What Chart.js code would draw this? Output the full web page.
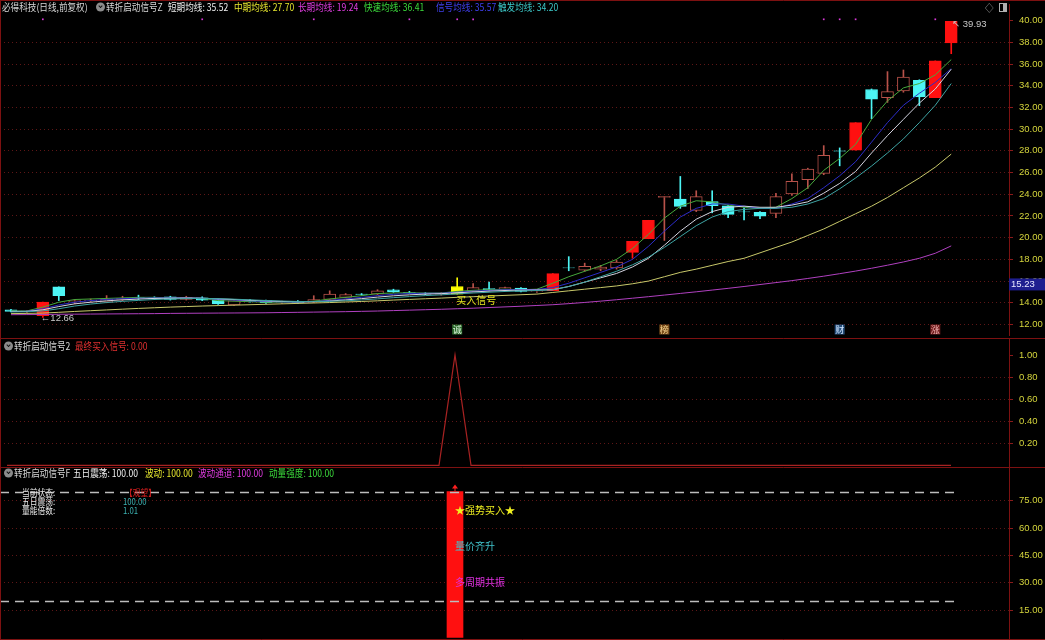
<!DOCTYPE html>
<html>
<head>
<meta charset="utf-8">
<title>必得科技 转折启动信号</title>
<script src="https://cdn.jsdelivr.net/npm/chart.js@4.4.1/dist/chart.umd.min.js"></script>
<style>
body { margin: 0; background: #000; }
#wrap { position: relative; width: 1045px; height: 640px; overflow: hidden; background: #000; font-family: "Noto Sans CJK SC", sans-serif; font-size: 10px; }
canvas { position: absolute; left: 0; }
.t { position: absolute; white-space: nowrap; line-height: 12px; transform-origin: left center; transform: translateY(-50%) scaleX(0.86); color: #d6d6d6; }
.info { font-size: 9px; line-height: 9px; }
.icon { position: absolute; width: 9px; height: 9px; border-radius: 50%; background: #8c8c8c; transform: translateY(-50%); }
.icon::after { content: ''; position: absolute; left: 3px; top: 1.5px; width: 2px; height: 2px; border-right: 1px solid #111; border-bottom: 1px solid #111; transform: rotate(45deg); }
</style>
</head>
<body>
<div id="wrap">
  <canvas id="price" width="1045" height="339" style="top:0"></canvas>
  <canvas id="final-buy" width="1045" height="129" style="top:339px"></canvas>
  <canvas id="strength" width="1045" height="172" style="top:468px"></canvas>

  <span class="t" style="left:2px;top:7px">必得科技(日线,前复权)</span>
  <span class="icon" style="left:96px;top:7px"></span>
  <span class="t" style="left:106px;top:7px">转折启动信号Z</span>
  <span class="t" style="left:168px;top:7px;color:#f0f0f0">短期均线: 35.52</span>
  <span class="t" style="left:234px;top:7px;color:#e6e62e">中期均线: 27.70</span>
  <span class="t" style="left:298px;top:7px;color:#e03ce0">长期均线: 19.24</span>
  <span class="t" style="left:364px;top:7px;color:#3cdc3c">快速均线: 36.41</span>
  <span class="t" style="left:436px;top:7px;color:#4040f0">信号均线: 35.57</span>
  <span class="t" style="left:498px;top:7px;color:#3cc8c8">触发均线: 34.20</span>
  <span class="t" style="left:985px;top:8px;color:#a0a0a0">◇</span>
  <div style="position:absolute;left:999px;top:3px;width:8px;height:9px;border:1px solid #b0b0b0;box-sizing:border-box"><div style="position:absolute;right:0;top:0;width:3px;height:7px;background:#b0b0b0"></div></div>

  <span class="icon" style="left:4px;top:346px"></span>
  <span class="t" style="left:14px;top:346px">转折启动信号2</span>
  <span class="t" style="left:75px;top:346px;color:#e03030">最终买入信号: 0.00</span>

  <span class="icon" style="left:4px;top:473px"></span>
  <span class="t" style="left:14px;top:473px">转折启动信号F</span>
  <span class="t" style="left:73px;top:473px;color:#f0f0f0">五日震荡: 100.00</span>
  <span class="t" style="left:145px;top:473px;color:#e6e62e">波动: 100.00</span>
  <span class="t" style="left:198px;top:473px;color:#e03ce0">波动通道: 100.00</span>
  <span class="t" style="left:269px;top:473px;color:#3cdc3c">动量强度: 100.00</span>

  <span class="t info" style="left:22px;top:492px;color:#e8e8e8">当前状态:</span>
  <span class="t info" style="left:125px;top:492px;color:#e02020">【观望】</span>
  <span class="t info" style="left:22px;top:501px;color:#e8e8e8">五日震荡:</span>
  <span class="t info" style="left:123px;top:501px;color:#3cb4b4">100.00</span>
  <span class="t info" style="left:22px;top:510px;color:#e8e8e8">量能倍数:</span>
  <span class="t info" style="left:123px;top:510px;color:#3cb4b4">1.01</span>
</div>

<script>
// daily candles (index = trading day)
const open_prices = [13.35, 13.20, 12.80, 15.47, 14.10, 14.20, 14.06, 14.30, 14.50, 14.45,
    14.55, 14.30, 14.45, 14.30, 13.80, 14.20, 14.20, 14.05, 14.10, 14.05,
    14.30, 14.50, 14.80, 14.80, 15.20, 14.95, 14.85, 14.80, 14.80, 15.10,
    15.30, 15.20, 15.35, 15.05, 15.11, 17.22, 17.00, 17.10, 17.20, 18.64,
    19.90, 23.70, 23.55, 22.52, 23.33, 22.94, 22.38, 22.34, 22.23, 24.02,
    25.34, 25.93, 27.99, 28.06, 33.65, 32.91, 33.51, 34.50, 32.91, 37.94];
const high_prices = [13.40, 13.30, 14.06, 15.47, 14.30, 14.35, 14.66, 14.60, 14.70, 14.55,
    14.60, 14.60, 14.55, 14.35, 14.30, 14.30, 14.25, 14.15, 14.20, 14.65,
    15.10, 14.85, 14.85, 15.20, 15.25, 15.05, 14.95, 14.95, 16.30, 15.76,
    15.90, 15.45, 15.40, 15.20, 16.69, 18.25, 17.65, 17.45, 17.90, 19.65,
    21.60, 23.80, 25.64, 24.32, 24.32, 23.00, 22.74, 22.40, 24.08, 25.88,
    26.40, 28.48, 28.27, 30.60, 33.70, 35.30, 35.45, 34.55, 36.29, 39.93];
const low_prices = [13.15, 13.10, 12.66, 14.20, 13.90, 14.05, 14.00, 14.20, 14.30, 14.30,
    14.25, 14.25, 14.20, 13.85, 13.75, 14.05, 13.95, 13.95, 13.95, 14.00,
    14.25, 14.45, 14.70, 14.75, 14.95, 14.85, 14.75, 14.70, 14.80, 15.05,
    15.10, 15.15, 15.00, 14.95, 15.11, 16.95, 16.90, 16.95, 17.10, 18.10,
    19.90, 19.74, 22.70, 22.40, 22.29, 21.84, 21.63, 21.75, 21.84, 23.90,
    24.53, 25.80, 26.62, 28.06, 30.96, 32.46, 33.40, 32.16, 32.91, 36.95];
const close_prices = [13.20, 13.25, 14.06, 14.66, 14.20, 14.25, 14.33, 14.40, 14.45, 14.40,
    14.30, 14.50, 14.25, 13.90, 14.20, 14.10, 14.00, 14.10, 14.00, 14.30,
    14.80, 14.75, 14.78, 15.10, 15.00, 14.90, 14.80, 14.90, 15.50, 15.40,
    15.20, 15.40, 15.05, 15.11, 16.69, 17.20, 17.35, 17.30, 17.74, 19.65,
    21.60, 23.80, 22.88, 23.78, 22.94, 22.14, 22.36, 21.98, 23.78, 25.19,
    26.33, 27.58, 27.96, 30.60, 32.76, 33.45, 34.79, 32.97, 36.29, 39.93];

// moving average lines of the indicator
const ma_fast = [13.25, 13.25, 13.60, 14.05, 14.30, 14.35, 14.40, 14.45, 14.50, 14.50,
    14.45, 14.45, 14.40, 14.20, 14.15, 14.10, 14.05, 14.05, 14.05, 14.15,
    14.35, 14.50, 14.65, 14.85, 14.90, 14.92, 14.90, 14.90, 15.05, 15.15,
    15.20, 15.25, 15.20, 15.25, 15.80, 16.40, 16.90, 17.40, 18.00, 19.00,
    20.30, 21.80, 22.90, 23.40, 23.30, 23.00, 22.80, 22.70, 22.80, 23.60,
    24.60, 26.20, 27.30, 28.60, 30.90, 32.60, 33.80, 34.20, 35.00, 36.41];
const ma_signal = [13.20, 13.22, 13.45, 13.80, 14.05, 14.20, 14.30, 14.38, 14.42, 14.45,
    14.45, 14.45, 14.42, 14.32, 14.25, 14.18, 14.12, 14.08, 14.06, 14.10,
    14.22, 14.36, 14.50, 14.66, 14.78, 14.85, 14.88, 14.88, 14.98, 15.07,
    15.14, 15.20, 15.20, 15.22, 15.40, 15.80, 16.30, 16.80, 17.30, 18.00,
    19.20, 20.60, 21.90, 22.70, 23.10, 23.10, 22.90, 22.70, 22.70, 23.10,
    23.60, 24.60, 25.70, 27.00, 28.80, 30.60, 32.20, 33.30, 34.30, 35.57];
const ma_short = [13.20, 13.20, 13.35, 13.65, 13.90, 14.05, 14.18, 14.27, 14.34, 14.40,
    14.42, 14.43, 14.42, 14.36, 14.30, 14.23, 14.17, 14.12, 14.09, 14.10,
    14.16, 14.26, 14.38, 14.52, 14.64, 14.73, 14.80, 14.84, 14.92, 15.00,
    15.07, 15.13, 15.16, 15.18, 15.20, 15.50, 15.90, 16.30, 16.70, 17.30,
    18.10, 19.30, 20.60, 21.70, 22.40, 22.80, 22.90, 22.80, 22.80, 23.00,
    23.30, 24.10, 25.00, 26.10, 27.80, 29.40, 30.90, 32.40, 33.70, 35.52];
const ma_trigger = [13.15, 13.17, 13.25, 13.45, 13.70, 13.88, 14.02, 14.13, 14.22, 14.30,
    14.35, 14.38, 14.40, 14.38, 14.33, 14.27, 14.21, 14.16, 14.12, 14.11,
    14.13, 14.18, 14.26, 14.36, 14.47, 14.57, 14.66, 14.73, 14.82, 14.90,
    14.97, 15.04, 15.09, 15.13, 15.20, 15.50, 15.90, 16.40, 16.90, 17.50,
    18.20, 19.10, 20.10, 21.10, 21.90, 22.40, 22.60, 22.70, 22.70, 22.80,
    23.10, 23.60, 24.50, 25.50, 26.60, 27.80, 29.10, 30.60, 32.20, 34.20];
const ma_mid = [13.00, 13.02, 13.05, 13.12, 13.20, 13.27, 13.34, 13.41, 13.48, 13.54,
    13.60, 13.65, 13.70, 13.74, 13.78, 13.82, 13.86, 13.90, 13.94, 13.98,
    14.02, 14.07, 14.12, 14.18, 14.25, 14.31, 14.37, 14.43, 14.50, 14.56,
    14.62, 14.68, 14.74, 14.80, 14.95, 15.10, 15.25, 15.40, 15.55, 15.75,
    16.00, 16.40, 16.80, 17.10, 17.45, 17.80, 18.10, 18.60, 19.10, 19.60,
    20.20, 20.80, 21.50, 22.20, 22.90, 23.70, 24.60, 25.50, 26.50, 27.70];
const ma_long = [12.90, 12.91, 12.92, 12.94, 12.95, 12.96, 12.97, 12.98, 12.99, 13.00,
    13.02, 13.03, 13.04, 13.05, 13.06, 13.07, 13.08, 13.10, 13.12, 13.14,
    13.16, 13.18, 13.21, 13.24, 13.28, 13.32, 13.36, 13.40, 13.45, 13.50,
    13.56, 13.62, 13.68, 13.75, 13.82, 13.92, 14.03, 14.15, 14.28, 14.42,
    14.56, 14.71, 14.86, 15.01, 15.17, 15.33, 15.50, 15.68, 15.86, 16.04,
    16.24, 16.45, 16.68, 16.92, 17.18, 17.46, 17.76, 18.10, 18.56, 19.24];

// signal days
const red_days = [2, 34, 39, 40, 53, 58, 59];
const yellow_days = [28];
const dot_days = [2, 12, 19, 25, 28, 29, 51, 52, 53, 58];
const dot_level = 40.12;
const tag_days = [28, 41, 52, 58];
const tag_texts = ['诚', '榜', '财', '涨'];
const last_marker = 15.23;

// 转折启动信号2 / 转折启动信号F
const final_buy_values = [0, 0, 0, 0, 0, 0, 0, 0, 0, 0,
    0, 0, 0, 0, 0, 0, 0, 0, 0, 0,
    0, 0, 0, 0, 0, 0, 0, 0, 1, 0,
    0, 0, 0, 0, 0, 0, 0, 0, 0, 0,
    0, 0, 0, 0, 0, 0, 0, 0, 0, 0,
    0, 0, 0, 0, 0, 0, 0, 0, 0, 0];
const strong_buy_days = [28];
const strong_buy_values = [80];
const strength_levels = [80, 20];
const strong_notes = ['★强势买入★', '量价齐升', '多周期共振'];
const strong_note_levels = [70, 50, 30];

// tick labels
const price_ticks = [12, 14, 16, 18, 20, 22, 24, 26, 28, 30, 32, 34, 36, 38, 40];
const final_buy_ticks = [0.2, 0.4, 0.6, 0.8, 1.0];
const strength_ticks = [15, 30, 45, 60, 75];

Chart.defaults.animation = false;
Chart.defaults.devicePixelRatio = 1;
Chart.defaults.plugins.legend.display = false;
Chart.defaults.plugins.tooltip.enabled = false;

const frame_color = '#7d1111';

function xScale(){
    // 63 day slots, 16px each, the last 3 stay empty
    return {type: 'linear', display: false, offset: false, min: -0.4375, max: 62.625};
}

function yScale(min, max, tick_values, hide_top_grid){
    let top = tick_values[tick_values.length - 1];
    return {
        position: 'right',
        min: min,
        max: max,
        afterBuildTicks: scale => { scale.ticks = tick_values.map(v => ({value: v})); },
        afterFit: scale => { scale.width = 36; scale.paddingTop = 0; scale.paddingBottom = 0; },
        ticks: {
            color: '#d4d43c',
            font: {family: 'Liberation Sans', size: 9.5},
            padding: 6,
            autoSkip: false,
            callback: v => Number(v).toFixed(2)
        },
        grid: {
            color: c => (hide_top_grid && c.tick && c.tick.value === top) ? 'rgba(0,0,0,0)' : '#5e1616',
            tickColor: '#8a1a1a',
            tickLength: 4
        },
        border: {color: frame_color, dash: [1, 3]}
    };
}

function panelFrame(draw_top){
    return {
        id: 'panel_frame',
        afterDraw(chart){
            const {ctx, width, height} = chart;
            ctx.save();
            ctx.strokeStyle = frame_color;
            ctx.lineWidth = 1;
            ctx.beginPath();
            ctx.moveTo(0.5, 0);
            ctx.lineTo(0.5, height);
            ctx.moveTo(0, height - 0.5);
            ctx.lineTo(width, height - 0.5);
            if(draw_top){
                ctx.moveTo(0, 0.5);
                ctx.lineTo(width, 0.5);
            }
            ctx.stroke();
            ctx.restore();
        }
    };
}

function points(values){
    return values.map((v, i) => ({x: i, y: v}));
}

function maLine(values, color){
    return {type: 'line', data: points(values), borderColor: color, borderWidth: 1, pointRadius: 0, tension: 0, order: 0};
}

// candle colours
const candle_kind = close_prices.map((c, i) => {
    if(yellow_days.includes(i)) return 'yellow';
    if(red_days.includes(i)) return 'red';
    return c >= open_prices[i] ? 'up' : 'down';
});
const kind_color = {yellow: '#ffff00', red: '#ff1010', up: '#b8524a', down: '#4df5f5'};
const edge_colors = candle_kind.map(k => kind_color[k]);
const fill_colors = candle_kind.map(k => k === 'up' ? '#000000' : kind_color[k]);

const price_notes = {
    id: 'price_notes',
    afterDatasetsDraw(chart){
        const {ctx, chartArea} = chart;
        const x = chart.scales.x;
        const y = chart.scales.y;
        ctx.save();
        ctx.textBaseline = 'middle';
        ctx.textAlign = 'left';

        ctx.font = '9.5px "Liberation Sans", "DejaVu Sans"';
        ctx.fillStyle = '#c8c8c8';
        let low_i = low_prices.indexOf(Math.min(...low_prices));
        ctx.fillText('←' + low_prices[low_i].toFixed(2), x.getPixelForValue(low_i) - 2, y.getPixelForValue(low_prices[low_i]) + 1);
        let high_i = high_prices.indexOf(Math.max(...high_prices));
        ctx.fillText('↖ ' + high_prices[high_i].toFixed(2), x.getPixelForValue(high_i) + 1, y.getPixelForValue(high_prices[high_i]) + 3);

        ctx.font = '10px "Noto Sans CJK SC"';
        ctx.fillStyle = '#e6e620';
        yellow_days.forEach(d => {
            ctx.fillText('买入信号', x.getPixelForValue(d) - 1, y.getPixelForValue(low_prices[d]) + 6);
        });

        const tag_styles = [['#2e6b2e', '#d8f0d8'], ['#7a4e1c', '#f0d08c'], ['#264f7a', '#cfe4ff'], ['#701c1c', '#f0b0b0']];
        ctx.font = '9px "Noto Sans CJK SC"';
        ctx.textAlign = 'center';
        tag_days.forEach((d, k) => {
            let cx = x.getPixelForValue(d);
            let cy = chartArea.bottom - 5.5;
            ctx.fillStyle = tag_styles[k][0];
            ctx.fillRect(cx - 5, cy - 5, 10, 10);
            ctx.fillStyle = tag_styles[k][1];
            ctx.fillText(tag_texts[k], cx, cy);
        });

        // current value box on the axis
        let py = y.getPixelForValue(last_marker);
        ctx.fillStyle = '#1e1e90';
        ctx.fillRect(chartArea.right, py - 11, 36, 12);
        ctx.fillStyle = '#e8e8ff';
        ctx.textAlign = 'left';
        ctx.font = '9.5px "Liberation Sans"';
        ctx.fillText(last_marker.toFixed(2), chartArea.right + 2, py - 5);
        ctx.restore();
    }
};

new Chart(document.getElementById('price'), {
    type: 'bar',
    data: {
        datasets: [
            {
                data: low_prices.map((l, i) => ({x: i, y: [l, high_prices[i]]})),
                backgroundColor: edge_colors,
                barThickness: 1,
                grouped: false,
                order: 2
            },
            {
                data: open_prices.map((o, i) => ({x: i, y: [o, close_prices[i]]})),
                backgroundColor: fill_colors,
                borderColor: edge_colors,
                borderWidth: 1,
                borderSkipped: false,
                barThickness: 12,
                grouped: false,
                order: 1
            },
            maLine(ma_long, '#b040c0'),
            maLine(ma_mid, '#c8c86a'),
            maLine(ma_trigger, '#3ea4a4'),
            maLine(ma_short, '#d4d4e0'),
            maLine(ma_signal, '#2c2cc8'),
            maLine(ma_fast, '#46a83c'),
            {
                type: 'line',
                data: dot_days.map(d => ({x: d, y: dot_level})),
                showLine: false,
                pointStyle: 'rect',
                pointRadius: 1.2,
                pointBackgroundColor: '#d838d8',
                pointBorderWidth: 0,
                order: 0
            }
        ]
    },
    options: {
        responsive: false,
        layout: {padding: 0},
        scales: {
            x: xScale(),
            y: yScale(11.03, 41.53, price_ticks, true)
        }
    },
    plugins: [panelFrame(true), price_notes]
});

new Chart(document.getElementById('final-buy'), {
    type: 'line',
    data: {
        datasets: [{
            data: points(final_buy_values),
            borderColor: '#a82222',
            borderWidth: 1.2,
            pointRadius: 0,
            tension: 0
        }]
    },
    options: {
        responsive: false,
        layout: {padding: 0},
        scales: {
            x: xScale(),
            y: yScale(-0.0236, 1.145, final_buy_ticks, true)
        }
    },
    plugins: [panelFrame(false)]
});

const strength_notes = {
    id: 'strength_notes',
    afterDatasetsDraw(chart){
        const {ctx, chartArea} = chart;
        const x = chart.scales.x;
        const y = chart.scales.y;
        const note_colors = ['#f0f020', '#40c4cc', '#e030e0'];
        ctx.save();
        ctx.strokeStyle = '#bdbdbd';
        ctx.lineWidth = 1.5;
        ctx.setLineDash([9, 6]);
        let right = x.getPixelForValue(close_prices.length - 1) + 7;
        strength_levels.forEach(v => {
            let py = Math.round(y.getPixelForValue(v)) + 0.5;
            ctx.beginPath();
            ctx.moveTo(chartArea.left, py);
            ctx.lineTo(right, py);
            ctx.stroke();
        });
        ctx.setLineDash([]);

        ctx.textBaseline = 'middle';
        ctx.textAlign = 'left';
        ctx.font = '10px "Noto Sans CJK SC"';
        strong_buy_days.forEach((d, k) => {
            let px = x.getPixelForValue(d);
            let top = y.getPixelForValue(strong_buy_values[k]);
            ctx.fillStyle = '#ff2020';
            ctx.beginPath();
            ctx.moveTo(px, top - 7);
            ctx.lineTo(px - 3, top - 3);
            ctx.lineTo(px + 3, top - 3);
            ctx.closePath();
            ctx.fill();
            ctx.fillRect(px - 0.5, top - 4, 1, 4);
            strong_notes.forEach((t, j) => {
                ctx.fillStyle = note_colors[j];
                ctx.fillText(t, px, y.getPixelForValue(strong_note_levels[j]));
            });
        });
        ctx.restore();
    }
};

new Chart(document.getElementById('strength'), {
    type: 'bar',
    data: {
        datasets: [{
            data: strong_buy_days.map((d, k) => ({x: d, y: strong_buy_values[k]})),
            backgroundColor: '#ff1010',
            barThickness: 16
        }]
    },
    options: {
        responsive: false,
        layout: {padding: 0},
        scales: {
            x: xScale(),
            y: yScale(-1.45, 92.95, strength_ticks, false)
        }
    },
    plugins: [panelFrame(false), strength_notes]
});
</script>
</body>
</html>
